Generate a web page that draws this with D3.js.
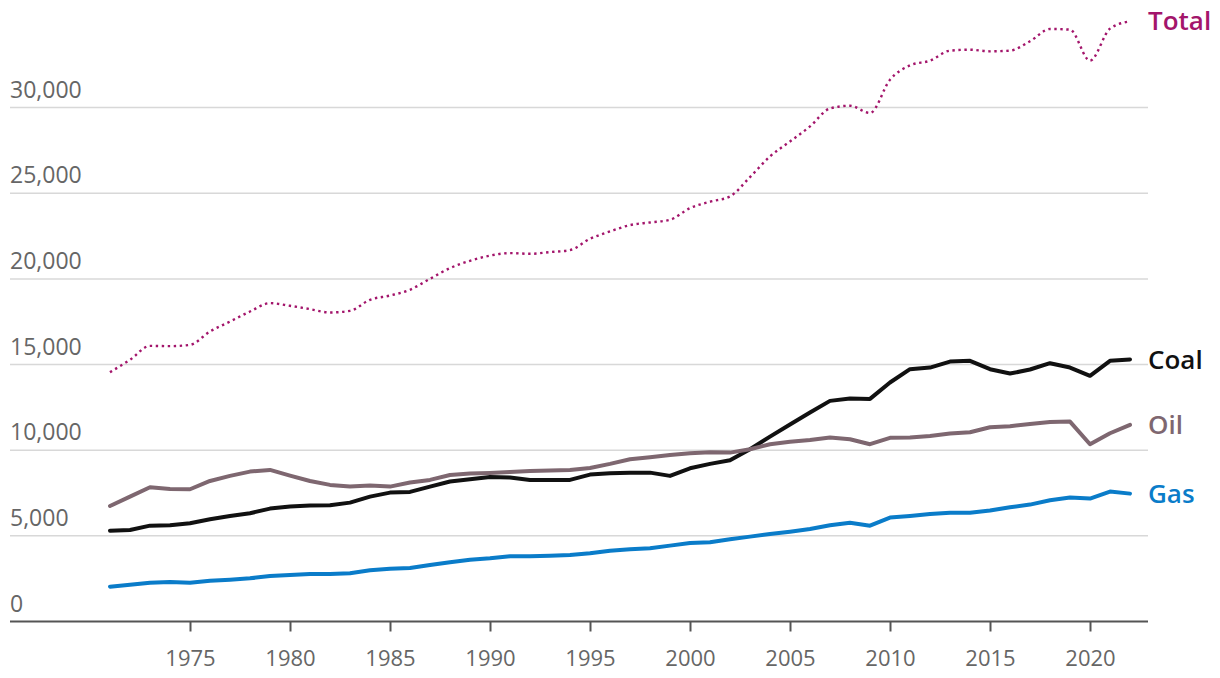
<!DOCTYPE html>
<html>
<head>
<meta charset="utf-8">
<script src="https://cdn.jsdelivr.net/npm/d3@7"></script>
<style>
  html, body { margin: 0; padding: 0; background: #fff; }
  svg { display: block; }
</style>
</head>
<body>
<svg id="chart" width="1220" height="678"></svg>
<script>
const years = d3.range(1971, 2023);

const coal = [5304, 5345, 5596, 5620, 5735, 5970, 6160, 6320, 6590, 6710,
  6765, 6790, 6940, 7290, 7525, 7565, 7875, 8170, 8305, 8440,
  8400, 8265, 8265, 8265, 8575, 8655, 8690, 8690, 8500, 8945,
  9200, 9415, 10055, 10795, 11500, 12200, 12880, 13015, 12995, 13950,
  14730, 14825, 15175, 15215, 14730, 14475, 14710, 15080, 14825, 14340,
  15215, 15295];

const oil = [6745, 7290, 7840, 7740, 7720, 8205, 8500, 8750, 8850, 8515,
  8205, 7975, 7875, 7935, 7875, 8110, 8265, 8550, 8635, 8675,
  8730, 8790, 8810, 8850, 8965, 9200, 9475, 9590, 9725, 9825,
  9880, 9860, 10055, 10350, 10495, 10600, 10740, 10640, 10350, 10720,
  10740, 10835, 10970, 11050, 11340, 11400, 11535, 11650, 11670, 10350,
  10990, 11480];

const gas = [2035, 2150, 2265, 2305, 2265, 2385, 2440, 2520, 2660, 2715,
  2775, 2775, 2815, 2990, 3085, 3125, 3300, 3455, 3610, 3690,
  3805, 3805, 3845, 3885, 3980, 4135, 4215, 4275, 4430, 4585,
  4625, 4800, 4955, 5110, 5245, 5400, 5620, 5770, 5595, 6065,
  6160, 6280, 6355, 6355, 6475, 6670, 6825, 7080, 7235, 7175,
  7585, 7465];

const total = [14555, 15275, 16090, 16075, 16150, 16930, 17510, 18095, 18585, 18430,
  18235, 18040, 18135, 18780, 19030, 19365, 20005, 20630, 21055, 21360,
  21505, 21465, 21565, 21680, 22340, 22770, 23140, 23295, 23450, 24135,
  24505, 24815, 25945, 27150, 28025, 28900, 29950, 30110, 29685, 31630,
  32465, 32740, 33325, 33380, 33285, 33325, 33870, 34590, 34550, 32740,
  34610, 35035];

const yTicks = [0, 5000, 10000, 15000, 20000, 25000, 30000];
const xTicks = [1975, 1980, 1985, 1990, 1995, 2000, 2005, 2010, 2015, 2020];

const seriesNames = ["Total", "Coal", "Oil", "Gas"];
const seriesValues = [total, coal, oil, gas];
const seriesColors = ["#a3156b", "#111111", "#7e6770", "#0a7cc9"];

const svg = d3.select("#chart");
const font = "'Open Sans', 'Noto Sans', sans-serif";

const x = d3.scaleLinear().domain([1971, 2022]).range([110, 1130]);
const y = d3.scaleLinear().domain([0, 30000]).range([621.5, 107.6]);
const plotLeft = 10, plotRight = 1148;

// gridlines
svg.append("g").selectAll("line").data(yTicks.filter(d => d > 0)).join("line")
  .attr("x1", plotLeft).attr("x2", plotRight)
  .attr("y1", d => y(d)).attr("y2", d => y(d))
  .attr("stroke", "#d8d8d8").attr("stroke-width", 1.5);

// y labels
svg.append("g").selectAll("text").data(yTicks).join("text")
  .attr("x", 10).attr("y", d => y(d) - 10)
  .attr("font-family", font).attr("font-size", 23).attr("fill", "#666")
  .text(d => d3.format(",")(d));

// x axis
const xAxis = d3.axisBottom(x).tickValues(xTicks).tickFormat(d3.format("d"))
  .tickSize(10).tickSizeOuter(0);
const gx = svg.append("g").attr("transform", `translate(0,${y(0)})`).call(xAxis);
gx.select(".domain").remove();
gx.selectAll(".tick line").attr("stroke", "#555").attr("stroke-width", 2);
gx.selectAll(".tick text").attr("font-family", font).attr("font-size", 22)
  .attr("fill", "#666").attr("dy", null).attr("y", 44);
svg.append("line").attr("x1", plotLeft).attr("x2", plotRight)
  .attr("y1", y(0)).attr("y2", y(0)).attr("stroke", "#555").attr("stroke-width", 2);

// lines
const linear = d3.line().x((d, i) => x(years[i])).y(d => y(d));
const smooth = d3.line().x((d, i) => x(years[i])).y(d => y(d)).curve(d3.curveMonotoneX);

seriesNames.forEach((name, k) => {
  const vals = seriesValues[k];
  const isTotal = name === "Total";
  svg.append("path").datum(vals)
    .attr("d", isTotal ? smooth : linear)
    .attr("fill", "none")
    .attr("stroke", seriesColors[k])
    .attr("stroke-width", isTotal ? 2.4 : 4)
    .attr("stroke-dasharray", isTotal ? "2.4,3.6" : null)
    .attr("stroke-linejoin", "round")
    .attr("stroke-linecap", isTotal ? "butt" : "round");
  svg.append("text")
    .attr("x", 1148).attr("y", y(vals[vals.length - 1]))
    .attr("dy", "0.35em")
    .attr("font-family", font).attr("font-size", 26).attr("font-weight", 600)
    .attr("fill", seriesColors[k])
    .text(name);
});
</script>
</body>
</html>
